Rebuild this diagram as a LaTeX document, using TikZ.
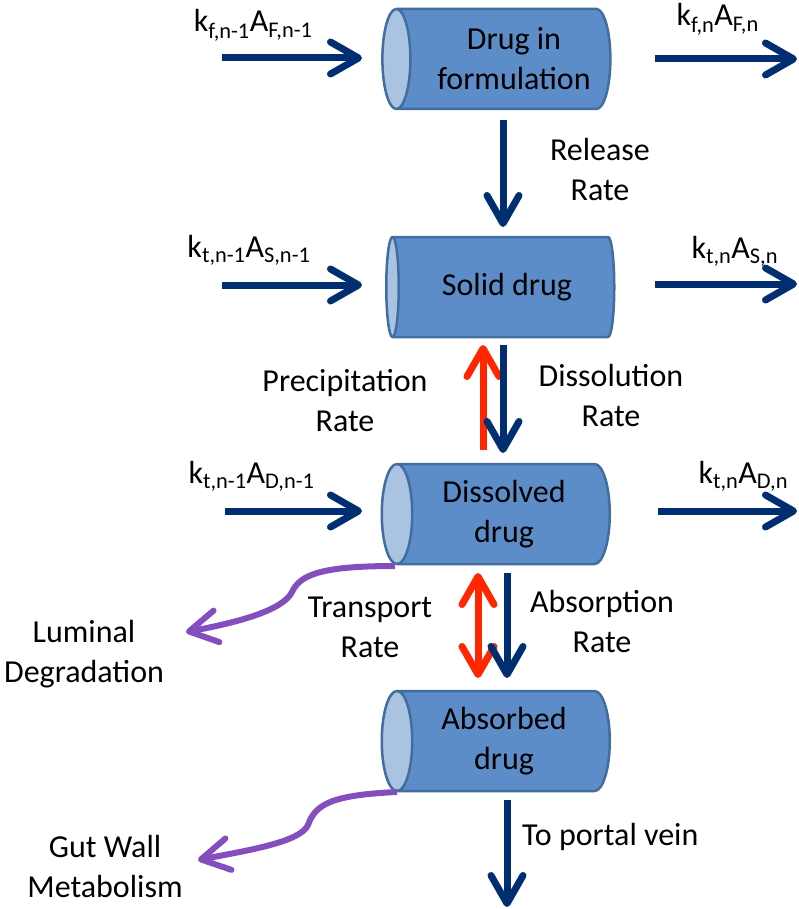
\documentclass[tikz,border=0pt]{standalone}
\usepackage{fontspec}
\setmainfont{Carlito}
\usetikzlibrary{shapes.geometric,arrows.meta,calc}

\definecolor{cylbody}{RGB}{92,141,201}
\definecolor{cylline}{RGB}{65,110,160}
\definecolor{cylend}{RGB}{170,195,225}
\definecolor{navy}{RGB}{0,46,112}
\definecolor{redarr}{RGB}{255,38,0}
\definecolor{purp}{RGB}{132,78,190}

\newcommand{\sbs}[1]{\textsubscript{#1}}

\tikzset{
  comp/.style={shape=cylinder, shape border rotate=180, aspect=0.45, draw=cylline, line width=2.5pt,
    cylinder uses custom fill, cylinder body fill=cylbody, cylinder end fill=cylend,
    minimum width=100pt, minimum height=228pt, align=center, inner sep=0pt},
  barb/.tip={Straight Barb[length=28pt,width=32pt,line cap=round,line join=round]},
  flow/.style={draw=navy, line width=7pt, -barb},
  back/.style={draw=redarr, line width=7pt, -barb},
  loss/.style={draw=purp, line width=6pt, -barb},
  lbl/.style={align=center, inner sep=0pt}
}

\begin{document}
\begin{tikzpicture}[x=1pt, y=-1pt, font=\fontsize{32}{40}\selectfont]
      \useasboundingbox (0,0) rectangle (799,909);

      % Compartments
      \node[comp] (dif) at (504,59) {\hspace*{20pt}Drug in\\\hspace*{20pt}formulation};
      \node[comp] (sol) at (504,287) {\hspace*{6pt}Solid drug};
      \node[comp] (dis) at (504,514) {Dissolved\\drug};
      \node[comp] (abs) at (504,741) {Absorbed\\drug};

      % Free ends
      \coordinate (inF) at (222,58);
      \coordinate (outF) at (797,59);
      \coordinate (inS) at (222,285);
      \coordinate (outS) at (797,284);
      \coordinate (inD) at (225,511);
      \coordinate (outD) at (797,511);
      \coordinate (vein) at (507,907);
      \coordinate (degr) at (186,632);
      \coordinate (metab) at (198,860);

      % Transit between segments
      \draw[flow] (inF) -- ($(dif.center)+(-142,-1)$);
      \draw[flow] ($(dif.center)+(151,0)$) -- (outF);
      \draw[flow] (inS) -- ($(sol.center)+(-142,-2)$);
      \draw[flow] ($(sol.center)+(151,-3)$) -- (outS);
      \draw[flow] (inD) -- ($(dis.center)+(-142,-3)$);
      \draw[flow] ($(dis.center)+(154,-3)$) -- (outD);

      % Rates between compartments
      \draw[flow] ($(dif.center)+(-1,61)$) -- ($(sol.center)+(-1,-60)$);
      \draw[back] ($(dis.center)+(-21,-64)$) -- ($(sol.center)+(-21,58)$);
      \draw[flow] ($(sol.center)+(-1,58)$) -- ($(dis.center)+(-1,-61)$);
      \draw[back, barb-barb] ($(dis.center)+(-26,59)$) -- ($(abs.center)+(-26,-63)$);
      \draw[flow] ($(dis.center)+(3,59)$) -- ($(abs.center)+(3,-63)$);
      \draw[flow] ($(abs.center)+(3,59)$) -- (vein);

      % Losses
      \draw[loss] ($(dis.center)+(-109,52)$) .. controls (320,566) and (300,575) .. (292,592)
                  .. controls (283,610) and (240,622) .. (degr);
      \draw[loss] ($(abs.center)+(-107,51)$) .. controls (330,795) and (315,805) .. (308,825)
                  .. controls (300,842) and (250,850) .. (metab);

      % Labels
      \node[anchor=base east] (kf0) at (316,32) {k\sbs{f,n-1}A\sbs{F,n-1}};
      \node[anchor=base west] (kf1) at (673,26) {k\sbs{f,n}A\sbs{F,n}};
      \node[anchor=base east] (ks0) at (314,257) {k\sbs{t,n-1}A\sbs{S,n-1}};
      \node[anchor=base west] (ks1) at (688,258) {k\sbs{t,n}A\sbs{S,n}};
      \node[anchor=base east] (kd0) at (318,483) {k\sbs{t,n-1}A\sbs{D,n-1}};
      \node[anchor=base west] (kd1) at (695,483) {k\sbs{t,n}A\sbs{D,n}};

      \node[lbl] (rel) at (600,170) {Release\\Rate};
      \node[lbl] (pre) at (345,401) {Precipitation\\Rate};
      \node[lbl] (dsl) at (611,396) {Dissolution\\Rate};
      \node[lbl] (tra) at (370,627) {Transport\\Rate};
      \node[lbl] (asr) at (602,622) {Absorption\\Rate};
      \node[lbl] (lum) at (84,654) {Luminal\\Degradation};
      \node[lbl] (gut) at (105,866) {Gut Wall\\Metabolism};
      \node[anchor=base west, inner sep=0pt] (pv) at (522,845) {To portal vein};
    \end{tikzpicture}
\end{document}
